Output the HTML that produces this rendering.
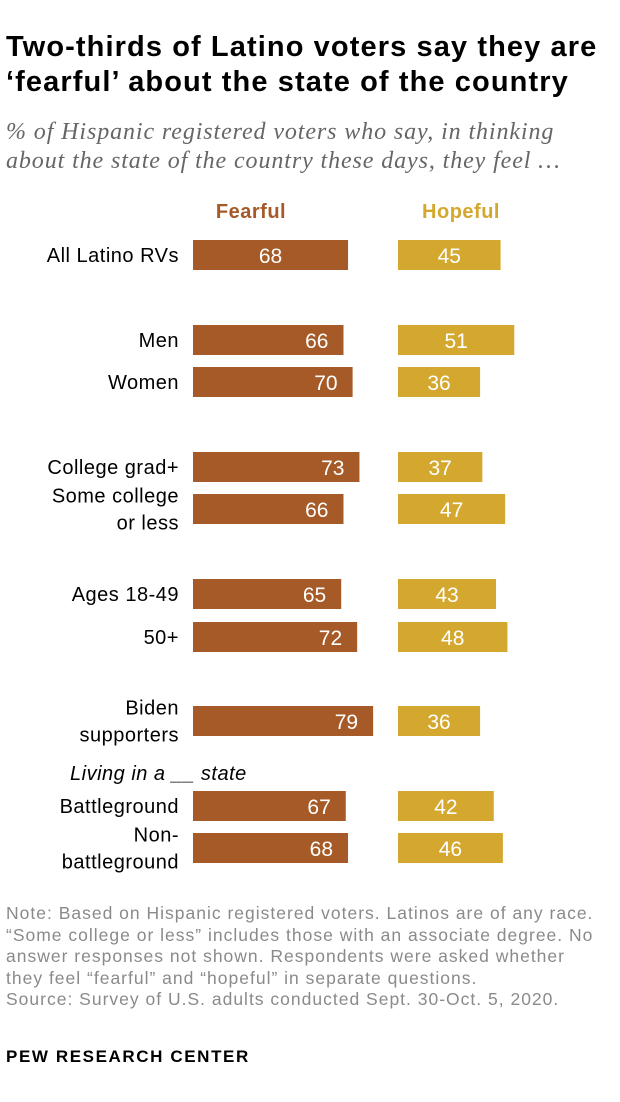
<!DOCTYPE html>
<html><head><meta charset="utf-8"><style>
body{margin:0;background:#fff;width:620px;height:1102px;overflow:hidden;font-family:"Liberation Sans",sans-serif}
#title{position:absolute;left:6px;top:30px;font-size:29px;font-weight:bold;line-height:35px;color:#000;letter-spacing:1.1px;white-space:nowrap}
#sub{position:absolute;left:6px;top:118px;font-size:24px;font-style:italic;line-height:29px;color:#666;font-family:"Liberation Serif",serif;letter-spacing:0.9px;white-space:nowrap}
#notes{position:absolute;left:6px;top:903px;font-size:17.5px;line-height:21.5px;color:#8a8a8a;letter-spacing:1px;white-space:nowrap}
#brand{position:absolute;left:6px;top:1047px;font-size:17px;font-weight:bold;color:#000;letter-spacing:1.6px}
</style></head><body>
<div id="title">Two-thirds of Latino voters say they are<br>‘fearful’ about the state of the country</div>
<div id="sub">% of Hispanic registered voters who say, in thinking<br>about the state of the country these days, they feel …</div>
<svg id="chart" width="620" height="900" style="position:absolute;left:0;top:0"></svg>
<div id="notes">Note: Based on Hispanic registered voters. Latinos are of any race.<br>“Some college or less” includes those with an associate degree. No<br>answer responses not shown. Respondents were asked whether<br>they feel “fearful” and “hopeful” in separate questions.<br>Source: Survey of U.S. adults conducted Sept. 30-Oct. 5, 2020.</div>
<div id="brand">PEW RESEARCH CENTER</div>
<script>
const categories=[["All Latino RVs"],["Men"],["Women"],["College grad+"],["Some college","or less"],["Ages 18-49"],["50+"],["Biden","supporters"],["Battleground"],["Non-","battleground"]];
const fearful=[68,66,70,73,66,65,72,79,67,68];
const hopeful=[45,51,36,37,47,43,48,36,42,46];
const rowCenters=[255,340,382,467,509,594,637,721,806,848];
const svg=document.getElementById('chart');
const NS='http://www.w3.org/2000/svg';
const scale=2.28,fx=193,hx=398,bh=30;
function X(v){return v*scale;}
function mk(tag,attrs,txt){const e=document.createElementNS(NS,tag);for(const k in attrs)e.setAttribute(k,attrs[k]);if(txt!==undefined)e.textContent=txt;svg.appendChild(e);return e;}
let h1=mk('text',{x:251,y:218,'text-anchor':'middle','font-size':20,'font-weight':'bold',fill:'#a55a27','letter-spacing':0.5},'Fearful');


let h2=mk('text',{x:461,y:218,'text-anchor':'middle','font-size':20,'font-weight':'bold',fill:'#d4a82f','letter-spacing':0.5},'Hopeful');


let lv=mk('text',{x:70,y:780,'font-size':20,'font-style':'italic',fill:'#000','letter-spacing':0.5},'Living in a __ state');


categories.forEach((c,i)=>{
 const cy=rowCenters[i];
 c.forEach((line,j)=>{
  const t=mk('text',{x:179,y:cy+7+(j-(c.length-1)/2)*27,'text-anchor':'end','font-size':20,fill:'#000','letter-spacing':0.5},line);
  
  
 });
 const r1=mk('rect',{x:fx,y:cy-15,width:X(fearful[i]),height:bh,fill:'#a55a27'});
 
 
 const fxText=i===0?fx+X(fearful[i])/2:fx+X(fearful[i])-15;
 const t1=mk('text',{x:fxText,y:cy+8,'text-anchor':i===0?'middle':'end','font-size':21,fill:'#fff'},fearful[i]);
 
 
 const r2=mk('rect',{x:hx,y:cy-15,width:X(hopeful[i]),height:bh,fill:'#d4a82f'});
 
 
 const t2=mk('text',{x:hx+X(hopeful[i])/2,y:cy+8,'text-anchor':'middle','font-size':21,fill:'#fff'},hopeful[i]);
 
 
});
</script>
</body></html>
